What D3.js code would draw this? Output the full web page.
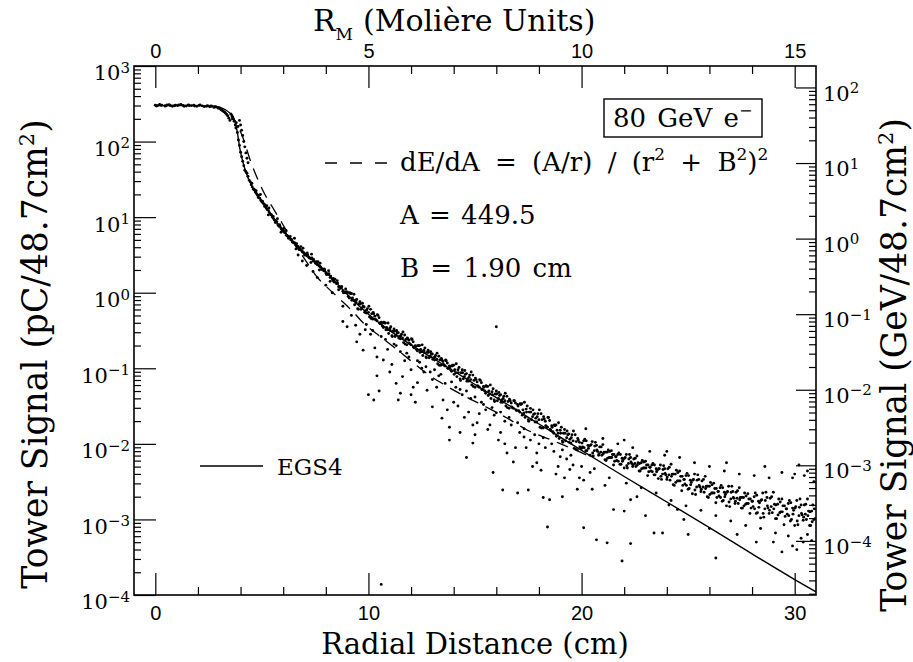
<!DOCTYPE html>
<html>
<head>
<meta charset="utf-8">
<script src="https://cdn.jsdelivr.net/npm/d3@7"></script>
<style>
  body { margin: 0; background: #fff; }
  svg text { font-family: "DejaVu Serif", serif; fill: #000; }
</style>
</head>
<body>
<svg id="chart" width="913" height="662"></svg>
<script>
// ---- axes ----
const radialDomain = [-1, 31];            // cm
const moliereRadius = 2.0;                // cm per Molière unit
const pcDomain = [1e-4, 1e3];             // pC per 48.7 cm^2
const pcPerGeV = 5.2;                     // calibration for the right-hand axis
const radialTicks = [0, 10, 20, 30];
const radialMinorTicks = [2, 4, 6, 8, 12, 14, 16, 18, 22, 24, 26, 28];
const moliereTicks = [0, 5, 10, 15];
const moliereMinorTicks = [1, 2, 3, 4, 6, 7, 8, 9, 11, 12, 13, 14];
const pcDecades = [1e-4, 1e-3, 1e-2, 1e-1, 1e0, 1e1, 1e2, 1e3];
const gevDecades = [1e-4, 1e-3, 1e-2, 1e-1, 1e0, 1e1, 1e2];

// ---- EGS4 simulation (solid) ----
const egs4R = [0, 1, 2, 2.6, 2.9, 3.1, 3.3, 3.5, 3.66, 3.83, 3.98, 4.22, 4.55, 5.06, 5.7, 6.3, 7.0, 7.7, 8.5, 9.3, 10.0, 10.9, 12.0, 13.0, 14.0, 15.0, 16.0, 17.0, 18.0, 19.0, 20.0, 21.0, 22.0, 24.0, 26.0, 28.0, 30.0, 31.0];
const egs4Signal = [300, 300, 299, 296, 290, 280, 262, 238, 211, 142, 77, 42, 25, 15.5, 8.4, 5.4, 3.4, 2.3, 1.35, 0.78, 0.52, 0.33, 0.204, 0.137, 0.092, 0.061, 0.041, 0.0275, 0.0183, 0.0123, 0.0082, 0.0055, 0.0037, 0.0017, 7.8e-4, 3.5e-4, 1.6e-4, 1.1e-4];

// ---- dE/dA parametrisation (dashed) ----
const fitR = [3.55, 3.75, 4.1, 4.45, 4.8, 5.1, 5.5, 5.95, 6.5, 7.0, 7.6, 8.1, 8.6, 9.3, 9.75, 10.5, 11.2, 12.0, 12.75, 13.5, 14.5, 15.5, 16.5, 17.4, 18.5, 19.5, 20.3];
const fitSignal = [240, 185, 115, 57, 32, 21, 13.5, 8.3, 4.5, 2.8, 1.6, 1.15, 0.85, 0.55, 0.40, 0.27, 0.19, 0.125, 0.085, 0.062, 0.043, 0.031, 0.022, 0.0155, 0.0115, 0.0088, 0.007];

// ---- measured tower signals: [r (cm), log10 signal (pC)] ----
const plateauHits = [[0.0,2.48],[0.05,2.47],[0.1,2.475],[0.2,2.49],[0.25,2.482],[0.3,2.48],[0.45,2.47],[0.5,2.472],[0.55,2.485],[0.65,2.488],[0.7,2.478],[0.8,2.468],[0.9,2.474],[0.95,2.482],[1.05,2.476],[1.1,2.486],[1.2,2.49],[1.3,2.479],[1.35,2.468],[1.45,2.47],[1.55,2.484],[1.6,2.478],[1.7,2.476],[1.8,2.481],[1.85,2.47],[1.95,2.468],[2.05,2.479],[2.1,2.485],[2.2,2.473],[2.3,2.462],[2.4,2.468],[2.45,2.475],[2.55,2.46],[2.6,2.47],[2.65,2.468],[2.75,2.452],[2.8,2.46],[2.85,2.458],[2.95,2.44],[3.0,2.445],[3.05,2.43],[3.1,2.418],[3.15,2.41],[3.2,2.398],[3.25,2.39],[3.3,2.376],[3.35,2.358],[3.4,2.34],[3.45,2.31],[3.5,2.28]];
const steepHits = [[3.55,2.36],[3.6,2.33],[3.62,2.30],[3.7,2.27],[3.75,2.22],[3.78,2.18],[3.85,2.12],[3.9,2.02],[3.95,1.95],[4.0,1.86],[4.05,1.80],[4.1,1.74],[4.15,1.68],[3.95,2.28],[4.0,2.22],[4.05,2.15],[4.1,2.08],[4.15,2.0],[4.2,1.93],[4.25,1.85],[4.3,1.78],[4.35,1.72],[3.8,2.25],[3.88,2.2]];
const coreHits = [[4.2,1.62],[4.25,1.6],[4.3,1.58],[4.35,1.54],[4.4,1.49],[4.45,1.47],[4.5,1.43],[4.55,1.40],[4.6,1.37],[4.65,1.36],[4.7,1.33],[4.75,1.31],[4.8,1.29],[4.85,1.29],[4.9,1.25],[4.95,1.22],[5.0,1.2],[5.05,1.19],[5.1,1.17],[5.15,1.16],[5.2,1.12],[5.25,1.10],[5.3,1.09],[5.35,1.06],[5.4,1.04],[5.45,1.03],[5.5,1.0],[5.55,0.98],[5.6,0.96],[5.65,0.95],[5.7,0.94],[5.75,0.9],[5.8,0.88],[5.85,0.88],[5.9,0.85],[5.95,0.84],[6.0,0.82],[6.05,0.8],[6.1,0.79],[6.15,0.76],[6.2,0.75],[6.25,0.72],[6.3,0.73],[6.35,0.70],[6.4,0.70],[6.45,0.67],[6.5,0.66],[6.55,0.66],[6.6,0.63],[6.65,0.62],[6.7,0.61],[6.75,0.57],[6.8,0.57],[6.85,0.56],[6.9,0.54],[6.95,0.53],[7.0,0.5],[7.1,0.49],[7.15,0.50],[7.2,0.47],[7.3,0.45],[7.35,0.46],[7.4,0.42],[7.5,0.40],[7.55,0.41],[7.6,0.37],[7.7,0.35],[7.75,0.34],[7.8,0.31],[7.9,0.29],[7.95,0.3],[8.0,0.26],[8.1,0.24],[8.15,0.25],[8.2,0.2],[8.3,0.18],[8.35,0.19],[8.4,0.14],[8.5,0.12],[8.55,0.13],[8.6,0.08],[8.7,0.06],[8.75,0.08],[8.8,0.02],[8.9,0.0],[8.95,0.01],[5.3,1.03],[5.9,0.80],[6.6,0.58],[7.3,0.40],[7.7,0.30],[8.2,0.15],[8.6,0.04],[6.7,0.5],[6.9,0.42],[7.1,0.36],[7.4,0.28],[7.6,0.2],[8.0,0.1],[8.3,0.0],[8.8,-0.18],
[4.53,1.45],[4.63,1.37],[4.73,1.35],[4.83,1.26],[4.93,1.30],[5.03,1.21],[5.13,1.14],[5.23,1.15],[5.33,1.12],[5.43,1.03],[5.53,1.01],[5.63,0.93],[5.73,0.98],[5.83,0.90],[5.93,0.835],[6.03,0.85],[6.13,0.825],[6.23,0.74],[6.33,0.745],[6.43,0.67],[6.53,0.72],[6.63,0.65],[6.73,0.59],[6.83,0.61],[6.93,0.59],[7.03,0.51],[7.13,0.525],[7.23,0.46],[7.33,0.51],[7.43,0.44],[7.53,0.385],[7.63,0.41],[7.73,0.39],[7.83,0.31],[7.93,0.315],[8.03,0.24],[8.13,0.29],[8.23,0.22],[8.33,0.16],[8.43,0.18],[8.53,0.16],[8.63,0.08],[8.73,0.08],[8.83,0.0],[8.93,0.05]];
const bandHits = [[9.0,0.01],[9.1,-0.07],[9.2,-0.01],[9.3,-0.10],[9.4,-0.10],[9.5,-0.21],[9.6,-0.12],[9.7,-0.20],[9.8,-0.19],[9.9,-0.27],[10.0,-0.26],[10.1,-0.22],[10.2,-0.35],[10.3,-0.31],[10.4,-0.37],[10.5,-0.33],[10.6,-0.39],[10.7,-0.46],[10.8,-0.40],[10.9,-0.49],[11.0,-0.47],[11.1,-0.57],[11.2,-0.48],[11.3,-0.56],[11.4,-0.53],[11.5,-0.61],[11.6,-0.60],[11.7,-0.56],[11.8,-0.69],[11.9,-0.63],[12.0,-0.69],[12.1,-0.65],[12.2,-0.70],[12.3,-0.77],[12.4,-0.70],[12.5,-0.78],[12.6,-0.76],[12.7,-0.85],[12.8,-0.76],[12.9,-0.84],[13.0,-0.81],[13.1,-0.89],[13.2,-0.88],[13.3,-0.84],[13.4,-0.96],[13.5,-0.91],[13.6,-0.97],[13.7,-0.93],[13.8,-0.97],[13.9,-1.04],[14.0,-0.96],[14.1,-1.06],[14.2,-1.02],[14.3,-1.14],[14.4,-1.02],[14.5,-1.11],[14.6,-1.07],[14.7,-1.17],[14.8,-1.15],[14.9,-1.09],[15.0,-1.25],[15.1,-1.18],[15.2,-1.25],[15.3,-1.19],[15.4,-1.24],[15.5,-1.33],[15.6,-1.24],[15.7,-1.34],[15.8,-1.31],[15.9,-1.42],[16.0,-1.30],[16.1,-1.40],[16.2,-1.35],[16.3,-1.45],[16.4,-1.43],[16.5,-1.37],[16.6,-1.53],[16.7,-1.46],[16.8,-1.53],[16.9,-1.46],[17.0,-1.48],[17.1,-1.58],[17.2,-1.47],[17.3,-1.59],[17.4,-1.54],[17.5,-1.68],[17.6,-1.53],[17.7,-1.64],[17.8,-1.60],[17.9,-1.71],[18.0,-1.68],[18.1,-1.60],[18.2,-1.79],[18.3,-1.70],[18.4,-1.78],[18.5,-1.69],[18.6,-1.76],[18.7,-1.86],[18.8,-1.75],[18.9,-1.86],[19.0,-1.82],[19.1,-1.96],[19.2,-1.81],[19.3,-1.92],[19.4,-1.87],[19.5,-1.99],[19.6,-1.96],[19.7,-1.88],[19.8,-2.08],[19.9,-1.98],[20.0,-2.06],
[9.05,-0.05],[9.15,-0.01],[9.25,-0.07],[9.35,-0.16],[9.45,-0.09],[9.55,-0.15],[9.65,-0.22],[9.75,-0.18],[9.85,-0.24],[9.95,-0.21],[10.05,-0.32],[10.15,-0.28],[10.25,-0.28],[10.35,-0.36],[10.45,-0.30],[10.55,-0.41],[10.65,-0.44],[10.75,-0.40],[10.85,-0.46],[10.95,-0.54],[11.05,-0.45],[11.15,-0.51],[11.25,-0.58],[11.35,-0.53],[11.45,-0.58],[11.55,-0.55],[11.65,-0.66],[11.75,-0.62],[11.85,-0.61],[11.95,-0.68],[12.05,-0.62],[12.15,-0.73],[12.25,-0.75],[12.35,-0.70],[12.45,-0.75],[12.55,-0.83],[12.65,-0.73],[12.75,-0.79],[12.85,-0.86],[12.95,-0.81],[13.05,-0.86],[13.15,-0.83],[13.25,-0.94],[13.35,-0.89],[13.45,-0.89],[13.55,-0.96],[13.65,-0.90],[13.75,-1.00],[13.85,-1.02],[13.95,-0.96],[14.05,-1.02],[14.15,-1.11],[14.25,-0.99],[14.35,-1.06],[14.45,-1.14],[14.55,-1.08],[14.65,-1.14],[14.75,-1.09],[14.85,-1.22],[14.95,-1.16],[15.05,-1.15],[15.15,-1.24],[15.25,-1.16],[15.35,-1.28],[15.45,-1.30],[15.55,-1.24],[15.65,-1.30],[15.75,-1.40],[15.85,-1.27],[15.95,-1.34],[16.05,-1.43],[16.15,-1.36],[16.25,-1.42],[16.35,-1.37],[16.45,-1.50],[16.55,-1.44],[16.65,-1.43],[16.75,-1.52],[16.85,-1.43],[16.95,-1.56],[17.05,-1.56],[17.15,-1.48],[17.25,-1.55],[17.35,-1.65],[17.45,-1.50],[17.55,-1.58],[17.65,-1.68],[17.75,-1.61],[17.85,-1.66],[17.95,-1.60],[18.05,-1.78],[18.15,-1.68],[18.25,-1.67],[18.35,-1.77],[18.45,-1.65],[18.55,-1.82],[18.65,-1.84],[18.75,-1.76],[18.85,-1.82],[18.95,-1.93],[19.05,-1.78],[19.15,-1.86],[19.25,-1.96],[19.35,-1.88],[19.45,-1.94],[19.55,-1.88],[19.65,-2.06],[19.75,-1.97],[19.85,-1.95],[19.95,-2.05],
[9.02,0.00],[9.12,0.00],[9.22,-0.10],[9.32,-0.02],[9.42,-0.13],[9.52,-0.22],[9.62,-0.15],[9.72,-0.14],[9.82,-0.26],[9.92,-0.23],[10.02,-0.18],[10.12,-0.34],[10.22,-0.26],[10.32,-0.35],[10.42,-0.29],[10.52,-0.40],[10.62,-0.40],[10.72,-0.39],[10.82,-0.49],[10.92,-0.40],[11.02,-0.50],[11.12,-0.58],[11.22,-0.51],[11.32,-0.50],[11.42,-0.60],[11.52,-0.57],[11.62,-0.52],[11.72,-0.68],[11.82,-0.60],[11.92,-0.67],[12.02,-0.61],[12.12,-0.72],[12.22,-0.71],[12.32,-0.70],[12.42,-0.79],[12.52,-0.69],[12.62,-0.79],[12.72,-0.86],[12.82,-0.79],[12.92,-0.78],[13.02,-0.88],[13.12,-0.85],[13.22,-0.80],[13.32,-0.96],[13.42,-0.87],[13.52,-0.95],[13.62,-0.89],[13.72,-1.00],[13.82,-0.98],[13.92,-0.97],[14.02,-1.08],[14.12,-0.94],[14.22,-1.06],[14.32,-1.16],[14.42,-1.06],[14.52,-1.03],[14.62,-1.17],[14.72,-1.12],[14.82,-1.05],[14.92,-1.24],[15.02,-1.13],[15.12,-1.23],[15.22,-1.15],[15.32,-1.28],[15.42,-1.25],[15.52,-1.23],[15.62,-1.36],[15.72,-1.22],[15.82,-1.35],[15.92,-1.44],[16.02,-1.34],[16.12,-1.32],[16.22,-1.45],[16.32,-1.40],[16.42,-1.33],[16.52,-1.52],[16.62,-1.41],[16.72,-1.51],[16.82,-1.43],[16.92,-1.55],[17.02,-1.50],[17.12,-1.47],[17.22,-1.62],[17.32,-1.45],[17.42,-1.58],[17.52,-1.70],[17.62,-1.58],[17.72,-1.55],[17.82,-1.71],[17.92,-1.64],[18.02,-1.55],[18.12,-1.79],[18.22,-1.64],[18.32,-1.76],[18.42,-1.65],[18.52,-1.81],[18.62,-1.78],[18.72,-1.75],[18.82,-1.90],[18.92,-1.72],[19.02,-1.86],[19.12,-1.98],[19.22,-1.86],[19.32,-1.83],[19.42,-1.98],[19.52,-1.92],[19.62,-1.83],[19.72,-2.07],[19.82,-1.93],[19.92,-2.04]];
const haloHits = [[20.1,-1.96],[20.2,-2.09],[20.3,-2.02],[20.4,-2.15],[20.5,-1.97],[20.6,-2.09],[20.7,-2.02],[20.8,-2.15],[20.9,-2.11],[21.0,-2.01],[21.1,-2.21],[21.2,-2.11],[21.3,-2.18],[21.4,-2.09],[21.5,-2.28],[21.6,-2.17],[21.7,-2.14],[21.8,-2.27],[21.9,-2.19],[22.0,-2.32],[22.1,-2.14],[22.2,-2.26],[22.3,-2.18],[22.4,-2.30],[22.5,-2.26],[22.6,-2.16],[22.7,-2.36],[22.8,-2.25],[22.9,-2.32],[23.0,-2.23],[23.1,-2.42],[23.2,-2.31],[23.3,-2.28],[23.4,-2.41],[23.5,-2.33],[23.6,-2.46],[23.7,-2.28],[23.8,-2.40],[23.9,-2.33],[24.0,-2.47],[24.1,-2.41],[24.2,-2.27],[24.3,-2.54],[24.4,-2.40],[24.5,-2.49],[24.6,-2.36],[24.7,-2.62],[24.8,-2.47],[24.9,-2.42],[25.0,-2.60],[25.1,-2.48],[25.2,-2.66],[25.3,-2.40],[25.4,-2.57],[25.5,-2.47],[25.6,-2.63],[25.7,-2.57],[25.8,-2.43],[25.9,-2.70],[26.0,-2.56],[26.1,-2.65],[26.2,-2.52],[26.3,-2.78],[26.4,-2.63],[26.5,-2.58],[26.6,-2.76],[26.7,-2.64],[26.8,-2.82],[26.9,-2.56],[27.0,-2.73],[27.1,-2.63],[27.2,-2.79],[27.3,-2.72],[27.4,-2.58],[27.5,-2.85],[27.6,-2.71],[27.7,-2.80],[27.8,-2.66],[27.9,-2.92],[28.0,-2.76],[28.1,-2.70],[28.2,-2.92],[28.3,-2.76],[28.4,-2.98],[28.5,-2.65],[28.6,-2.86],[28.7,-2.71],[28.8,-2.92],[28.9,-2.83],[29.0,-2.64],[29.1,-2.99],[29.2,-2.80],[29.3,-2.91],[29.4,-2.73],[29.5,-3.07],[29.6,-2.86],[29.7,-2.79],[29.8,-3.02],[29.9,-2.85],[30.0,-3.08],[30.1,-2.75],[30.2,-2.95],[30.3,-2.81],[30.4,-3.01],[30.5,-2.93],[30.6,-2.73],[30.7,-3.08],[30.8,-2.89],[30.9,-3.00],
[20.05,-2.04],[20.15,-1.94],[20.25,-2.09],[20.35,-2.03],[20.45,-2.01],[20.55,-2.16],[20.65,-1.98],[20.75,-2.10],[20.85,-2.04],[20.95,-2.15],[21.05,-2.11],[21.15,-2.22],[21.25,-2.08],[21.35,-2.18],[21.45,-2.14],[21.55,-2.23],[21.65,-2.22],[21.75,-2.12],[21.85,-2.27],[21.95,-2.21],[22.05,-2.18],[22.15,-2.32],[22.25,-2.14],[22.35,-2.26],[22.45,-2.20],[22.55,-2.30],[22.65,-2.25],[22.75,-2.36],[22.85,-2.22],[22.95,-2.32],[23.05,-2.28],[23.15,-2.37],[23.25,-2.36],[23.35,-2.26],[23.45,-2.41],[23.55,-2.35],[23.65,-2.33],[23.75,-2.47],[23.85,-2.29],[23.95,-2.41],[24.05,-2.33],[24.15,-2.48],[24.25,-2.40],[24.35,-2.55],[24.45,-2.35],[24.55,-2.49],[24.65,-2.43],[24.75,-2.55],[24.85,-2.53],[24.95,-2.39],[25.05,-2.59],[25.15,-2.51],[25.25,-2.47],[25.35,-2.67],[25.45,-2.41],[25.55,-2.57],[25.65,-2.49],[25.75,-2.64],[25.85,-2.56],[25.95,-2.71],[26.05,-2.51],[26.15,-2.65],[26.25,-2.59],[26.35,-2.71],[26.45,-2.69],[26.55,-2.55],[26.65,-2.75],[26.75,-2.67],[26.85,-2.63],[26.95,-2.83],[27.05,-2.56],[27.15,-2.72],[27.25,-2.64],[27.35,-2.79],[27.45,-2.71],[27.55,-2.85],[27.65,-2.65],[27.75,-2.79],[27.85,-2.73],[27.95,-2.85],[28.05,-2.83],[28.15,-2.65],[28.25,-2.91],[28.35,-2.78],[28.45,-2.74],[28.55,-2.97],[28.65,-2.64],[28.75,-2.85],[28.85,-2.72],[28.95,-2.91],[29.05,-2.80],[29.15,-2.99],[29.25,-2.73],[29.35,-2.90],[29.45,-2.82],[29.55,-2.96],[29.65,-2.93],[29.75,-2.75],[29.85,-3.00],[29.95,-2.88],[30.05,-2.83],[30.15,-3.07],[30.25,-2.73],[30.35,-2.94],[30.45,-2.81],[30.55,-3.00],[30.65,-2.89],[30.75,-3.08],[30.85,-2.81],[30.95,-2.99],
[20.02,-1.99],[20.12,-2.05],[20.22,-1.96],[20.32,-2.06],[20.42,-2.02],[20.52,-2.12],[20.62,-2.03],[20.72,-2.08],[20.82,-2.13],[20.92,-2.04],[21.02,-2.13],[21.12,-2.11],[21.22,-2.19],[21.32,-2.10],[21.42,-2.18],[21.52,-2.14],[21.62,-2.17],[21.72,-2.23],[21.82,-2.14],[21.92,-2.23],[22.02,-2.19],[22.12,-2.29],[22.22,-2.20],[22.32,-2.24],[22.42,-2.28],[22.52,-2.19],[22.62,-2.28],[22.72,-2.26],[22.82,-2.33],[22.92,-2.24],[23.02,-2.32],[23.12,-2.28],[23.22,-2.31],[23.32,-2.37],[23.42,-2.28],[23.52,-2.37],[23.62,-2.33],[23.72,-2.43],[23.82,-2.34],[23.92,-2.39],[24.02,-2.44],[24.12,-2.31],[24.22,-2.43],[24.32,-2.40],[24.42,-2.51],[24.52,-2.38],[24.62,-2.49],[24.72,-2.43],[24.82,-2.47],[24.92,-2.55],[25.02,-2.42],[25.12,-2.54],[25.22,-2.48],[25.32,-2.61],[25.42,-2.48],[25.52,-2.55],[25.62,-2.60],[25.72,-2.47],[25.82,-2.59],[25.92,-2.56],[26.02,-2.67],[26.12,-2.54],[26.22,-2.65],[26.32,-2.59],[26.42,-2.63],[26.52,-2.71],[26.62,-2.58],[26.72,-2.70],[26.82,-2.64],[26.92,-2.77],[27.02,-2.64],[27.12,-2.71],[27.22,-2.76],[27.32,-2.62],[27.42,-2.74],[27.52,-2.71],[27.62,-2.82],[27.72,-2.69],[27.82,-2.79],[27.92,-2.73],[28.02,-2.76],[28.12,-2.86],[28.22,-2.68],[28.32,-2.84],[28.42,-2.75],[28.52,-2.92],[28.62,-2.75],[28.72,-2.82],[28.82,-2.88],[28.92,-2.70],[29.02,-2.86],[29.12,-2.81],[29.22,-2.94],[29.32,-2.77],[29.42,-2.90],[29.52,-2.82],[29.62,-2.86],[29.72,-2.95],[29.82,-2.78],[29.92,-2.93],[30.02,-2.85],[30.12,-3.02],[30.22,-2.84],[30.32,-2.92],[30.42,-2.97],[30.52,-2.80],[30.62,-2.95],[30.72,-2.90],[30.82,-3.03],[30.92,-2.86],
[20.2,-1.80],[20.6,-2.33],[21.0,-1.93],[21.3,-2.45],[21.7,-2.00],[22.1,-2.52],[22.4,-2.05],[22.8,-2.58],[23.2,-2.10],[23.5,-2.65],[23.9,-2.15],[24.2,-2.75],[24.6,-2.18],[24.9,-2.82],[25.3,-2.25],[25.6,-2.88],[26.0,-2.30],[26.3,-2.95],[26.7,-2.36],[27.0,-3.02],[27.4,-2.40],[27.7,-3.08],[28.1,-2.42],[28.4,-3.12],[28.8,-2.45],[29.1,-3.18],[29.4,-2.38],[29.7,-3.22],[30.0,-2.40],[30.3,-3.25],[30.6,-2.36],[30.8,-3.28],[29.9,-2.45],[30.45,-2.42],[29.0,-3.30],[30.9,-2.50],[26.8,-2.25],[28.6,-2.3],[30.2,-2.28],[24.0,-2.1],[22.0,-1.95]];
const strayHits = [[9.4,-0.43],[9.85,-0.49],[9.45,-0.65],[9.75,-0.76],[10.7,-0.89],[10.3,-0.73],[11.5,-1.33],[11.4,-1.42],[11.6,-1.11],[12.0,-1.02],[12.3,-1.19],[12.75,-1.29],[13.0,-1.51],[13.45,-1.66],[13.8,-1.78],[13.8,-1.95],[14.3,-1.85],[14.6,-2.18],[14.9,-1.99],[15.6,-1.81],[15.85,-2.38],[16.0,-1.59],[16.3,-2.61],[16.5,-2.12],[16.8,-2.24],[17.0,-2.65],[17.3,-1.91],[17.5,-2.61],[17.9,-2.12],[18.2,-2.71],[18.5,-2.74],[19.0,-2.17],[19.1,-2.70],[19.45,-2.34],[20.1,-3.11],[20.1,-2.48],[20.4,-2.38],[18.4,-3.10],
[21.5,-2.87],[22.0,-2.89],[22.3,-2.74],[23.4,-3.18],[23.8,-3.18],[25.0,-3.20],[24.1,-2.81],[24.5,-2.87],[26.3,-3.51],[21.2,-3.31],[29.4,-3.43],[30.1,-3.40],
[10.0,-1.35],[10.25,-1.42],[10.5,-1.30],[9.0,-0.45],[8.8,-0.38],[10.9,-0.75],[11.1,-0.95],[12.6,-1.05],[13.2,-1.25],[14.0,-1.45],[15.2,-1.6],[15.0,-1.88],[16.2,-1.85],[17.7,-2.3],[18.8,-2.4],[19.8,-2.6],[12.2,-1.45],[14.5,-1.65],[10.6,-3.86],[20.7,-3.27],[22.3,-3.32],[16.0,-0.45],[21.9,-3.55],
[10.2,-0.5],[10.8,-0.62],[11.3,-0.7],[11.9,-0.85],[12.4,-0.92],[12.9,-1.05],[13.3,-1.1],[13.6,-1.2],[14.1,-1.25],[14.4,-1.35],[14.8,-1.4],[15.3,-1.45],[15.5,-1.55],[15.9,-1.62],[16.4,-1.7],[16.7,-1.75],[17.1,-1.85],[17.6,-1.95],[18.0,-2.0],[18.3,-2.05],[18.7,-2.1],[19.3,-2.2],[19.6,-2.28],[20.0,-2.3],[11.7,-0.9],[13.0,-1.15],[14.2,-1.5],[15.7,-1.75],[17.4,-2.05],[18.9,-2.3],[12.5,-1.0],[16.1,-1.95],[19.9,-2.45],[12.1,-1.25],[13.5,-1.42],[15.1,-1.72],[16.9,-2.05],[18.1,-2.35],[14.7,-1.58],[11.0,-1.05],[10.4,-0.85],[9.6,-0.55],
[9.2,-0.3],[9.9,-0.42],[10.1,-0.55],[10.6,-0.58],[11.2,-0.68],[11.5,-0.78],[11.8,-0.8],[12.3,-0.9],[12.7,-0.98],[13.1,-1.02],[13.4,-1.08],[13.9,-1.18],[14.3,-1.28],[14.6,-1.3],[15.0,-1.38],[15.4,-1.48],[15.8,-1.52],[16.2,-1.58],[16.6,-1.65],[17.0,-1.72],[17.3,-1.8],[17.8,-1.88],[18.2,-1.92],[18.6,-2.0],[19.1,-2.08],[19.5,-2.15],[10.4,-1.1],[11.3,-1.2],[12.0,-1.35],[13.7,-1.55],[14.9,-1.75],[16.4,-2.0],[17.9,-2.25],[19.2,-2.45],[20.5,-2.6],[21.1,-2.55],[22.6,-2.7],[23.0,-2.95],[24.8,-3.0],[26.0,-3.12],[27.3,-3.2],[28.2,-3.3],[29.9,-3.35],[30.6,-3.2],[30.4,-3.3]];

// ---- text ----
const beamLabel = "80 GeV e";
const fitParamA = "A = 449.5";
const fitParamB = "B = 1.90 cm";
const simLabel = "EGS4";

// ---- layout ----
const frame = { left: 134, right: 816, top: 66, bottom: 595 };
const svg = d3.select("#chart");

const x = d3.scaleLinear().domain(radialDomain).range([frame.left, frame.right]);
const xM = d3.scaleLinear().domain(radialDomain.map(r => r / moliereRadius)).range([frame.left, frame.right]);
const y = d3.scaleLog().domain(pcDomain).range([frame.bottom, frame.top]);
const yG = d3.scaleLog().domain(pcDomain.map(v => v / pcPerGeV)).range([frame.bottom, frame.top]);

function logMinors(scale) {
  const [lo, hi] = scale.domain();
  const out = [];
  for (let e = Math.floor(Math.log10(lo)); e <= Math.ceil(Math.log10(hi)); e++) {
    for (let m = 2; m <= 9; m++) {
      const v = m * Math.pow(10, e);
      if (v >= lo && v <= hi) out.push(v);
    }
  }
  return out;
}

function styleAxis(g) {
  g.select(".domain").remove();
  g.selectAll(".tick line").attr("stroke", "#000").attr("stroke-width", 1.2);
  g.attr("font-family", null).attr("font-size", null);
}

function powerLabels(g, dy) {
  g.selectAll(".tick text").each(function (d) {
    const t = d3.select(this);
    const e = Math.round(Math.log10(d));
    t.text(null).attr("dy", dy).attr("font-size", 21);
    t.append("tspan").text("10");
    t.append("tspan").attr("dy", "-0.5em").attr("font-size", 15)
      .text(e < 0 ? "\u2212" + (-e) : String(e));
  });
}

const sansTicks = g => g.selectAll(".tick text").attr("font-size", 20)
  .style("font-family", "'Liberation Sans', Arial, sans-serif");

// bottom axis (cm)
svg.append("g").attr("transform", `translate(0,${frame.bottom})`)
  .call(d3.axisBottom(x).tickValues(radialMinorTicks).tickSize(-8).tickFormat(""))
  .call(styleAxis);
svg.append("g").attr("transform", `translate(0,${frame.bottom})`)
  .call(d3.axisBottom(x).tickValues(radialTicks).tickSize(-22).tickPadding(11).tickFormat(d3.format("d")))
  .call(styleAxis).call(sansTicks);

// top axis (Molière units)
svg.append("g").attr("transform", `translate(0,${frame.top})`)
  .call(d3.axisTop(xM).tickValues(moliereMinorTicks).tickSize(-8).tickFormat(""))
  .call(styleAxis);
svg.append("g").attr("transform", `translate(0,${frame.top})`)
  .call(d3.axisTop(xM).tickValues(moliereTicks).tickSize(-22).tickPadding(8).tickFormat(d3.format("d")))
  .call(styleAxis).call(sansTicks);

// left axis (pC)
svg.append("g").attr("transform", `translate(${frame.left},0)`)
  .call(d3.axisLeft(y).tickValues(logMinors(y)).tickSize(-7).tickFormat(""))
  .call(styleAxis);
svg.append("g").attr("transform", `translate(${frame.left},0)`)
  .call(d3.axisLeft(y).tickValues(pcDecades).tickSize(-22).tickPadding(4))
  .call(styleAxis)
  .call(g => powerLabels(g, "0.66em"));

// right axis (GeV)
svg.append("g").attr("transform", `translate(${frame.right},0)`)
  .call(d3.axisRight(yG).tickValues(logMinors(yG)).tickSize(-7).tickFormat(""))
  .call(styleAxis);
svg.append("g").attr("transform", `translate(${frame.right},0)`)
  .call(d3.axisRight(yG).tickValues(gevDecades).tickSize(-20).tickPadding(7))
  .call(styleAxis)
  .call(g => powerLabels(g, "0.6em"));

// frame
svg.append("rect")
  .attr("x", frame.left).attr("y", frame.top)
  .attr("width", frame.right - frame.left).attr("height", frame.bottom - frame.top)
  .attr("fill", "none").attr("stroke", "#000").attr("stroke-width", 1.6);

// clip for marks
svg.append("clipPath").attr("id", "plotClip").append("rect")
  .attr("x", frame.left).attr("y", frame.top)
  .attr("width", frame.right - frame.left).attr("height", frame.bottom - frame.top);
const plot = svg.append("g").attr("clip-path", "url(#plotClip)");

// measured points
const allHits = [].concat(plateauHits, steepHits, coreHits, bandHits, haloHits, strayHits);
plot.append("g").selectAll("circle").data(allHits).join("circle")
  .attr("cx", d => x(d[0]))
  .attr("cy", d => y(Math.pow(10, d[1])))
  .attr("r", 1.45)
  .attr("fill", "#000");

// curves
const line = d3.line().x(d => x(d[0])).y(d => y(d[1])).curve(d3.curveMonotoneX);
plot.append("path")
  .datum(egs4R.map((r, i) => [r, egs4Signal[i]]))
  .attr("d", line).attr("fill", "none").attr("stroke", "#000").attr("stroke-width", 1.4);
plot.append("path")
  .datum(fitR.map((r, i) => [r, fitSignal[i]]))
  .attr("d", line).attr("fill", "none").attr("stroke", "#000").attr("stroke-width", 1.3)
  .attr("stroke-dasharray", "12,8");

// beam box
const boxG = svg.append("g");
boxG.append("rect").attr("x", 604).attr("y", 99).attr("width", 158).attr("height", 38)
  .attr("fill", "#fff").attr("stroke", "#000").attr("stroke-width", 1.4);
const bt = boxG.append("text").attr("x", 613).attr("y", 127).attr("font-size", 26).attr("word-spacing", 3);
bt.append("tspan").text(beamLabel);
bt.append("tspan").attr("dy", -11).attr("font-size", 16).text("\u2212");

// parametrisation legend
svg.append("line").attr("x1", 325).attr("x2", 388).attr("y1", 163).attr("y2", 163)
  .attr("stroke", "#000").attr("stroke-width", 1.3).attr("stroke-dasharray", "12,13");
const ft = svg.append("text").attr("x", 400).attr("y", 171).attr("font-size", 26).attr("word-spacing", 7);
ft.append("tspan").text("dE/dA = (A/r) / (r");
ft.append("tspan").attr("dy", -11).attr("font-size", 17).text("2");
ft.append("tspan").attr("dy", 11).text(" + B");
ft.append("tspan").attr("dy", -11).attr("font-size", 17).text("2");
ft.append("tspan").attr("dy", 11).text(")");
ft.append("tspan").attr("dy", -11).attr("font-size", 17).text("2");
svg.append("text").attr("x", 400).attr("y", 224).attr("font-size", 26).attr("word-spacing", 2).text(fitParamA);
svg.append("text").attr("x", 400).attr("y", 277).attr("font-size", 26).attr("word-spacing", 3).text(fitParamB);

// EGS4 legend
svg.append("line").attr("x1", 200).attr("x2", 263).attr("y1", 466).attr("y2", 466)
  .attr("stroke", "#000").attr("stroke-width", 1.4);
svg.append("text").attr("x", 277).attr("y", 475).attr("font-size", 23).text(simLabel);

// axis titles
svg.append("text").attr("x", 475).attr("y", 654).attr("text-anchor", "middle")
  .attr("font-size", 29).text("Radial Distance (cm)");

const tt = svg.append("text").attr("x", 313).attr("y", 31).attr("font-size", 30);
tt.append("tspan").text("R");
tt.append("tspan").attr("dy", 9).attr("font-size", 17).text("M");
tt.append("tspan").attr("dy", -9).attr("dx", 10).text("(Moli\u00e8re Units)");

const lt = svg.append("text").attr("transform", "translate(47,354) rotate(-90)")
  .attr("text-anchor", "middle").attr("font-size", 34.5);
lt.append("tspan").text("Tower Signal (pC/48.7cm");
lt.append("tspan").attr("dy", -13).attr("font-size", 21).text("2");
lt.append("tspan").attr("dy", 13).text(")");

const rt = svg.append("text").attr("transform", "translate(906,365) rotate(-90)")
  .attr("text-anchor", "middle").attr("font-size", 34.5);
rt.append("tspan").text("Tower Signal (GeV/48.7cm");
rt.append("tspan").attr("dy", -13).attr("font-size", 21).text("2");
rt.append("tspan").attr("dy", 13).text(")");
</script>
</body>
</html>
